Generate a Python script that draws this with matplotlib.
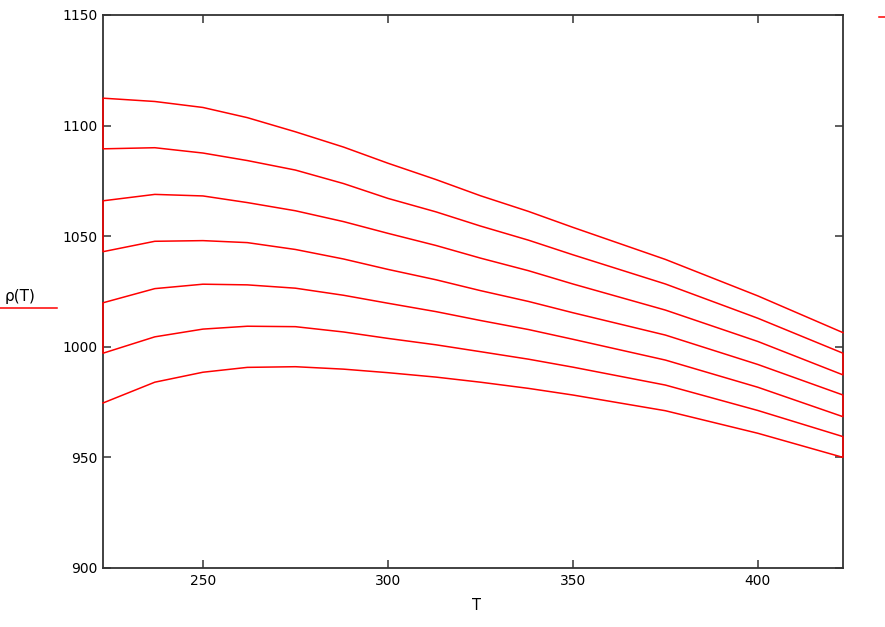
import numpy as np
import matplotlib
matplotlib.use("Agg")
import matplotlib.pyplot as plt

# temperature grid (K)
T = [223, 237, 250, 262, 275, 288, 300, 313, 325, 338, 350, 375, 400, 423]

# density curves, top to bottom
rho1 = [1112.4, 1110.9, 1108.2, 1103.6, 1097.2, 1090.3, 1083.0, 1075.6, 1068.3, 1061.2, 1054.0, 1039.5, 1023.0, 1006.4]
rho2 = [1089.5, 1090.0, 1087.6, 1084.2, 1079.9, 1073.8, 1067.1, 1061.0, 1054.6, 1048.2, 1041.6, 1028.4, 1012.9, 997.1]
rho3 = [1066.0, 1068.9, 1068.2, 1065.2, 1061.5, 1056.6, 1051.3, 1045.8, 1040.1, 1034.4, 1028.4, 1016.6, 1002.4, 987.3]
rho4 = [1043.0, 1047.7, 1048.0, 1047.1, 1044.0, 1039.7, 1035.0, 1030.3, 1025.4, 1020.5, 1015.4, 1005.3, 992.0, 978.2]
rho5 = [1019.9, 1026.3, 1028.3, 1028.0, 1026.5, 1023.3, 1019.7, 1015.9, 1011.9, 1007.8, 1003.4, 994.0, 981.7, 968.4]
rho6 = [997.1, 1004.5, 1008.0, 1009.3, 1009.1, 1006.7, 1003.8, 1000.9, 997.8, 994.4, 990.8, 982.7, 971.2, 959.4]
rho7 = [974.6, 984.0, 988.5, 990.7, 991.0, 989.9, 988.3, 986.3, 984.0, 981.2, 978.2, 971.1, 960.9, 950.0]

xticks = [250, 300, 350, 400]
yticks = [900, 950, 1000, 1050, 1100, 1150]

# one serpentine trace like mathcad draws it
curves = [rho1, rho2, rho3, rho4, rho5, rho6, rho7]
xs, ys = [], []
for i, c in enumerate(curves):
    if i % 2 == 0:
        xs += T[::-1]
        ys += c[::-1]
    else:
        xs += T
        ys += c

fig = plt.figure(figsize=(8.85, 6.27), dpi=100)
ax = fig.add_axes([103 / 885, 59 / 627, 740 / 885, 553 / 627])
ax.plot(xs, ys, color="#ff0000", lw=1.1, zorder=3, clip_on=False)

ax.set_xlim(223, 423)
ax.set_ylim(900, 1150)
ax.set_xticks(xticks)
ax.set_yticks(yticks)
ax.tick_params(direction="in", length=6, width=1.1, color="#333333",
               top=True, right=True, labelsize=10, pad=4)
for s in ax.spines.values():
    s.set_color("#333333")
    s.set_linewidth(1.3)

fig.text(476 / 885, 1 - 606 / 627, "T", ha="center", va="center", fontsize=10.5)
fig.text(20 / 885, 1 - 297 / 627, "ρ(T)", ha="center", va="center", fontsize=11)
fig.add_artist(plt.Line2D([0, 57 / 885], [1 - 308 / 627] * 2, color="#ff0000", lw=1.1))
fig.add_artist(plt.Line2D([879 / 885, 885 / 885], [1 - 17 / 627] * 2, color="#ff0000", lw=1.1))

fig.savefig("out.png", dpi=100)
